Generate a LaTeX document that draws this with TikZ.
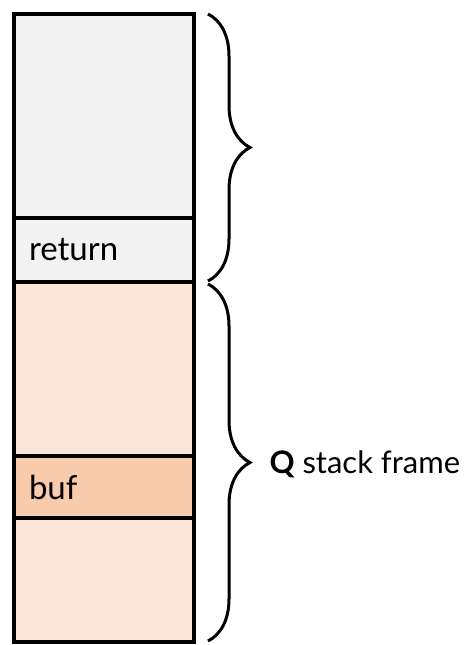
\documentclass[tikz,border=0pt]{standalone}
\usepackage{fontspec}
\setmainfont{Lato}
\usetikzlibrary{decorations.pathreplacing}
\definecolor{cellgray}{HTML}{F2F2F2}
\definecolor{cellpeach}{HTML}{FBE5D6}
\definecolor{cellbuf}{HTML}{F8CBAD}
\tikzset{
  cell/.style={draw=black, line width=4pt, minimum width=180pt, inner sep=0pt,
    text width=150pt, align=left, font=\fontsize{33}{38}\selectfont},
  bracestyle/.style={decorate, decoration={brace, amplitude=42pt}, line width=3pt},
}
\begin{document}
\begin{tikzpicture}[x=1pt,y=-1pt]
\useasboundingbox (0,0) rectangle (466,645);
\node[cell, fill=cellgray, minimum height=204pt] (top) at (104,116) {};
\node[cell, fill=cellgray, minimum height=64pt] (ret) at (104,250) {return};
\node[cell, fill=cellpeach, minimum height=174pt] (up) at (104,369) {};
\node[cell, fill=cellbuf, minimum height=62pt] (buf) at (104,487) {buf};
\node[cell, fill=cellpeach, minimum height=124pt] (low) at (104,580) {};
\coordinate (b1s) at (208,14);
\coordinate (b1e) at (208,281);
\coordinate (b2s) at (208,284);
\coordinate (b2e) at (208,641);
\draw[bracestyle] (b1s) -- (b1e);
\draw[bracestyle] (b2s) -- (b2e);
\node[anchor=west, font=\fontsize{31}{36}\selectfont] (lbl) at (266,464) {\textbf{Q} stack frame};
\end{tikzpicture}
\end{document}
